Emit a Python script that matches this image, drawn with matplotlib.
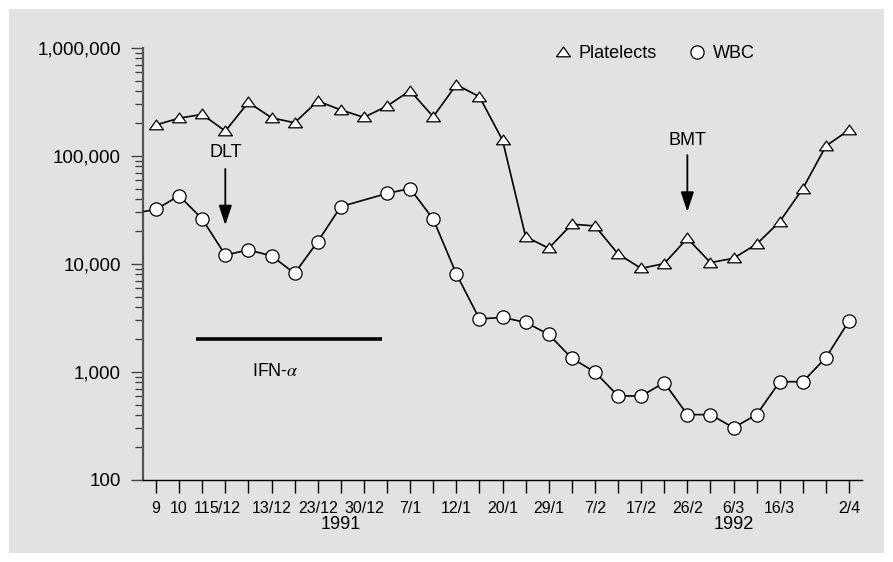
import matplotlib
matplotlib.use("Agg")
import matplotlib.pyplot as plt
from matplotlib.patches import Rectangle
from matplotlib.path import Path
from matplotlib.ticker import FixedLocator, LogLocator, NullFormatter

plt.rcParams["font.family"] = ["Liberation Sans", "DejaVu Sans"]
plt.rcParams["mathtext.fontset"] = "stix"

# sample index positions (one tick per sample)
platelet_x = list(range(31))
platelets = [194000, 224000, 243000, 170000, 314000, 226000, 203000, 323000,
             267000, 228000, 290000, 403000, 231000, 457000, 354000, 140000,
             17900, 14000, 23400, 22500, 12400, 9100, 10100, 17300, 10300,
             11300, 15300, 24700, 50000, 124000, 174000]

wbc_x = [-1, 0, 1, 2, 3, 4, 5, 6, 7, 8, 10, 11, 12, 13, 14, 15, 16, 17, 18,
         19, 20, 21, 22, 23, 24, 25, 26, 27, 28, 29, 30]
wbc = [29400, 32000, 42900, 26100, 12100, 13500, 11900, 8200, 16100, 34000,
       45000, 50000, 26000, 8100, 3100, 3200, 2880, 2230, 1340, 1000, 600, 600,
       796, 403, 403, 305, 403, 813, 813, 1360, 2970]

tick_labels = {0: "9", 1: "10", 2: "11", 3: "5/12", 5: "13/12", 7: "23/12",
               9: "30/12", 11: "7/1", 13: "12/1", 15: "20/1", 17: "29/1",
               19: "7/2", 21: "17/2", 23: "26/2", 25: "6/3", 27: "16/3",
               30: "2/4"}
years = {8: "1991", 25: "1992"}
y_ticks = [100, 1000, 10000, 100000, 1000000]
y_labels = ["100", "1,000", "10,000", "100,000", "1,000,000"]

ifn_span = (1.72, 9.78)
ifn_level = 2020

fig = plt.figure(figsize=(8.93, 5.62), dpi=100, facecolor="white")
fig.patches.append(Rectangle((9 / 893, 9 / 562), 875 / 893, 544 / 562,
                             transform=fig.transFigure, facecolor="#e2e2e2",
                             edgecolor="none", zorder=-10))
ax = fig.add_axes([143 / 893, 82 / 562, 719 / 893, 432 / 562])
ax.set_facecolor("none")
ax.set_zorder(1)

# wide flat triangle marker
tri = Path([(-1, -0.62), (1, -0.62), (0, 0.78), (-1, -0.62)],
           [Path.MOVETO, Path.LINETO, Path.LINETO, Path.CLOSEPOLY])

ax.plot(platelet_x, platelets, color="black", lw=1.2, marker=tri,
        markersize=10, markerfacecolor="white", markeredgecolor="black",
        markeredgewidth=0.9, label="Platelects", zorder=3)
ax.plot(wbc_x, wbc, color="black", lw=1.2, marker="o", markersize=9.5,
        markerfacecolor="white", markeredgecolor="black",
        markeredgewidth=0.9, label="WBC", zorder=3)

ax.set_yscale("log")
ax.set_ylim(100, 1000000)
ax.set_xlim(-0.563, 30.56)

ax.yaxis.set_major_locator(FixedLocator(y_ticks))
ax.set_yticklabels(y_labels, fontsize=13.5)
ax.yaxis.set_minor_locator(LogLocator(base=10, subs=range(2, 10)))
ax.yaxis.set_minor_formatter(NullFormatter())
ax.tick_params(axis="y", which="major", length=9, width=1, color="#444444", pad=7)
ax.tick_params(axis="y", which="minor", length=6, width=1, color="#444444")

ax.set_xticks(range(31))
ax.set_xticklabels([tick_labels.get(i, "") for i in range(31)], fontsize=11.5)
ax.tick_params(axis="x", length=9, width=1, pad=6)

for s in ["top", "right"]:
    ax.spines[s].set_visible(False)
ax.spines["left"].set_color("#555555")
ax.spines["left"].set_linewidth(1.6)
ax.spines["bottom"].set_linewidth(1.0)

for xi, yr in years.items():
    ax.text(xi, -0.104, yr, transform=ax.get_xaxis_transform(),
            ha="center", va="center", fontsize=13)

# annotations
arrow = dict(arrowstyle="-|>,head_length=0.6,head_width=0.2", color="black",
             lw=1.3, mutation_scale=20, shrinkA=0, shrinkB=0)
ax.annotate("", xy=(3, 0.590), xytext=(3, 0.72),
            xycoords=("data", "axes fraction"), arrowprops=arrow)
ax.text(3, 0.757, "DLT", transform=ax.get_xaxis_transform(),
        ha="center", va="center", fontsize=13)
ax.annotate("", xy=(23, 0.621), xytext=(23, 0.752),
            xycoords=("data", "axes fraction"), arrowprops=arrow)
ax.text(23, 0.787, "BMT", transform=ax.get_xaxis_transform(),
        ha="center", va="center", fontsize=13)

ax.plot(ifn_span, [ifn_level, ifn_level], color="black", lw=2.6,
        solid_capstyle="butt")
ax.text(sum(ifn_span) / 2 - 0.6, 0.25, "IFN-$\\alpha$",
        transform=ax.get_xaxis_transform(), ha="center", va="center",
        fontsize=13)

leg = ax.legend(loc="upper right", bbox_to_anchor=(764 / 893, 1 - 36 / 562),
                bbox_transform=fig.transFigure, ncol=2, frameon=False,
                fontsize=13, borderpad=0, handlelength=0.8, handletextpad=0.5,
                columnspacing=1.8)
for h in leg.get_lines():
    h.set_linestyle("none")

fig.savefig("out.png", dpi=100, facecolor="white")
